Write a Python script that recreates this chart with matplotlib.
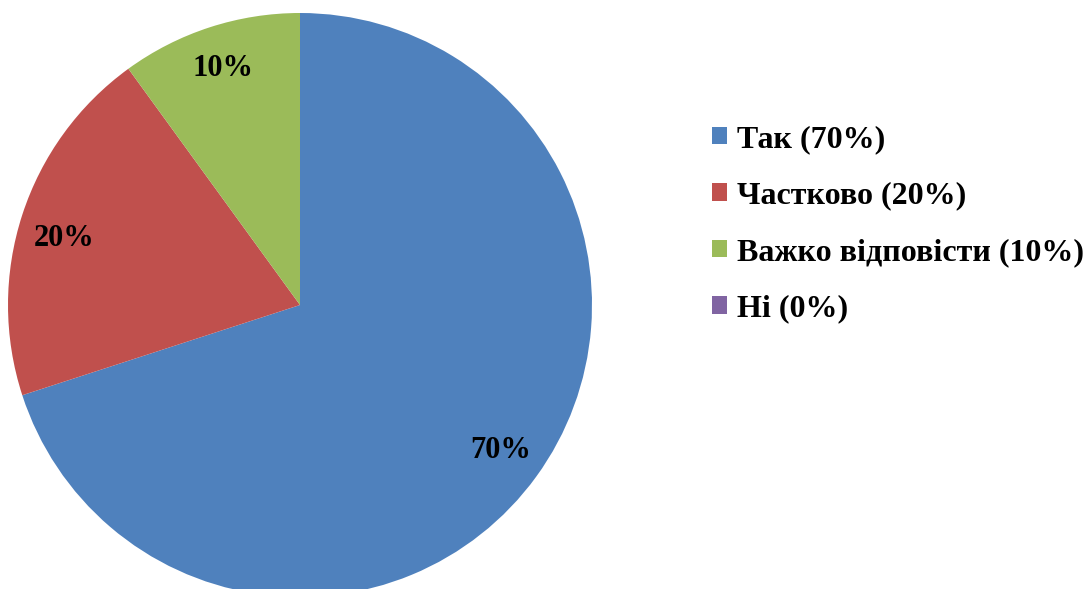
import matplotlib.pyplot as plt

labels = ['Так (70%)', 'Частково (20%)', 'Важко відповісти (10%)', 'Ні (0%)']
values = [70, 20, 10, 0]
colors = ['#4F81BD', '#C0504D', '#9BBB59', '#8064A2']

plt.rcParams['font.family'] = ['Liberation Serif', 'DejaVu Serif']
plt.rcParams['font.weight'] = 'bold'

W, H = 1089, 589
fig = plt.figure(figsize=(W / 100, H / 100), dpi=100)
# pie area in pixels: x 8..592, y 13..597 (top-down)
ax = fig.add_axes([8 / W, (H - 597) / H, 584 / W, 584 / H])

wedges, texts, autotexts = ax.pie(
    values, colors=colors, startangle=90, counterclock=False,
    autopct=lambda p: '%d%%' % round(p) if p > 0 else '',
    pctdistance=0.85, wedgeprops=dict(linewidth=0),
    textprops=dict(fontsize=22, fontweight='bold', color='black'))
ax.set_xlim(-1, 1)
ax.set_ylim(-1, 1)
ax.set_aspect('equal')

# nudge the 20% label a bit lower like in the original
x, y = autotexts[1].get_position()
autotexts[1].set_position((x, y - 0.035))

leg = fig.legend(wedges, labels, loc='center left',
                 bbox_to_anchor=(712 / W, 1 - 224 / H), frameon=False,
                 prop=dict(size=23, weight='bold'),
                 handlelength=0.47, handleheight=0.47, handletextpad=0.31,
                 labelspacing=0.86, borderpad=0, borderaxespad=0)

plt.savefig('out.png', dpi=100)
